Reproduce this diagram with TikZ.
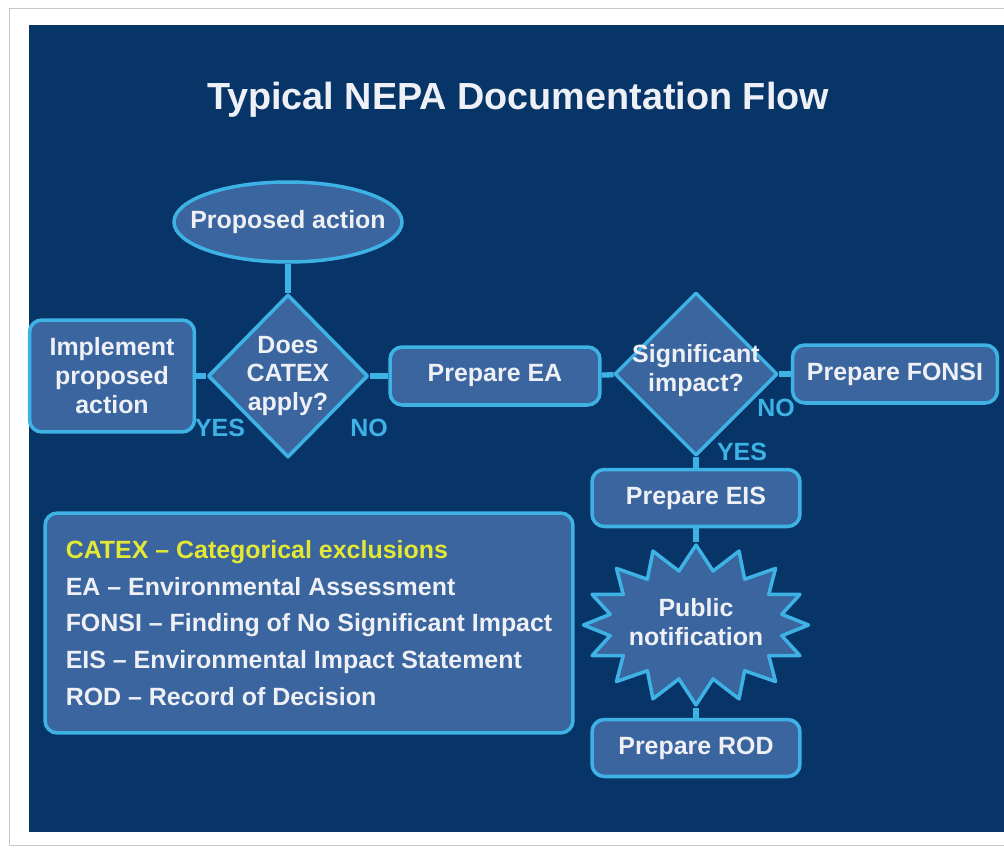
\documentclass[tikz,border=0pt]{standalone}
\usepackage{fontspec}
\setmainfont{Liberation Sans}
\usetikzlibrary{shapes.geometric,shapes.symbols}
\definecolor{panel}{RGB}{7,53,104}
\definecolor{boxfill}{RGB}{58,101,158}
\definecolor{edge}{RGB}{62,178,228}
\definecolor{ink}{RGB}{238,240,246}
\definecolor{legendhead}{RGB}{228,232,52}
\newcommand{\nodefont}{\bfseries\fontsize{14.2}{16.5}\selectfont}

\begin{document}
\begin{tikzpicture}[x=0.02cm,y=-0.02cm,line join=round,
  box/.style={draw=edge,fill=boxfill,line width=2pt,rounded corners=7pt,text=ink,font=\nodefont,align=center,inner sep=0pt},
  decide/.style={diamond,draw=edge,fill=boxfill,line width=2pt,inner sep=0pt},
  txt/.style={text=ink,font=\nodefont,align=center,inner sep=0pt},
  link/.style={draw=edge,line width=3pt},
  answer/.style={text=edge,font=\nodefont,inner sep=0pt}]
  % 画布与背景
  \useasboundingbox (0,0) rectangle (1004,848);
  \draw[fill=white,draw=black!22] (9,8) rectangle (1020,845);
  \fill[panel] (29,25) rectangle (1004,832);

  % 标题
  \node[text=ink,font=\bfseries\fontsize{21.5}{24}\selectfont] (ttl) at (518,100) {Typical NEPA Documentation Flow};

  % 第一行：提议行动与 CATEX 判断
  \node[ellipse,draw=edge,fill=boxfill,line width=2pt,minimum width=4.56cm,minimum height=1.6cm] (act) at (288,222) {};
  \node[txt] (act-t) at (act) {Proposed action};
  \node[decide,minimum width=3.2cm,minimum height=3.26cm] (catex) at (288,376) {};
  \node[txt] (catex-t) at (catex) {Does\\CATEX\\apply?};
  \node[box,minimum width=3.3cm,minimum height=2.24cm] (impl) at (112,376) {Implement\\proposed\\action};
  \node[box,minimum width=4.2cm,minimum height=1.16cm] (ea) at (495,376) {Prepare EA};

  % 显著影响判断
  \node[decide,minimum width=3.26cm,minimum height=3.26cm] (sig) at (696,374) {};
  \node[txt] (sig-t) at (696,371) {Significant\\impact?};
  \node[box,minimum width=4.1cm,minimum height=1.16cm] (fonsi) at (895,374) {Prepare FONSI};

  % EIS 分支
  \node[box,minimum width=4.16cm,minimum height=1.14cm] (eis) at (696,498) {Prepare EIS};
  \node[starburst,starburst points=16,starburst point height=0.5cm,random starburst=0,
        draw=edge,fill=boxfill,line width=2pt,minimum width=4.5cm,minimum height=3.2cm] (pub) at (696,625) {};
  \node[txt] (pub-t) at (696,622) {Public\\notification};
  \node[box,minimum width=4.16cm,minimum height=1.14cm] (rod) at (696,748) {Prepare ROD};

  % 连线
  \draw[link] (act) -- (catex);
  \draw[link] (impl) -- (catex);
  \draw[link] (catex) -- (ea);
  \draw[link] (ea) -- (sig);
  \draw[link] (sig) -- (fonsi);
  \draw[link] (sig) -- (eis);
  \draw[link] (eis) -- (pub);
  \draw[link] (pub) -- (rod);

  % 是/否标注
  \node[answer] (catex-yes) at (220,428) {YES};
  \node[answer] (catex-no) at (369,428) {NO};
  \node[answer] (sig-no) at (776,408) {NO};
  \node[answer] (sig-yes) at (742,452) {YES};

  % 缩写说明
  \node[box,align=left,font=\bfseries\fontsize{14.2}{21}\selectfont,minimum width=10.56cm,minimum height=4.4cm] (legend) at (309,623)
    {{\color{legendhead}CATEX -- Categorical exclusions}\\
     EA -- Environmental Assessment\\
     FONSI -- Finding of No Significant Impact\\
     EIS -- Environmental Impact Statement\\
     ROD -- Record of Decision};
\end{tikzpicture}
\end{document}
